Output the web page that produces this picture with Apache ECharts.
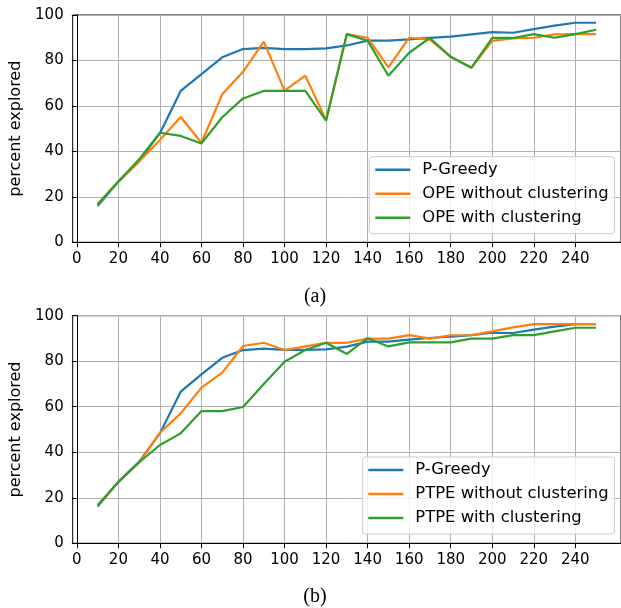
<!DOCTYPE html>
<html><head><meta charset="utf-8">
<script src="https://cdn.jsdelivr.net/npm/echarts@6/dist/echarts.min.js"></script>
<style>html,body{margin:0;padding:0;background:#fff}#c{width:621px;height:608px}</style>
</head><body><div id="c"></div>
<script>
const steps = [10,20,30,40,50,60,70,80,90,100,110,120,130,140,150,160,170,180,190,200,210,220,230,240,250];
const xTicks = [0,20,40,60,80,100,120,140,160,180,200,220,240];
const yTicks = [0,20,40,60,80,100];

const namesA = ['P-Greedy','OPE without clustering','OPE with clustering'];
const namesB = ['P-Greedy','PTPE without clustering','PTPE with clustering'];
const panelLabels = ['(a)','(b)'];
const yLabel = 'percent explored';

const pGreedyA = [16.0,26.7,35.8,48.0,66.6,74.0,81.4,85.0,85.5,85.0,85.0,85.3,86.6,88.7,88.7,89.3,89.9,90.5,91.5,92.5,92.2,93.8,95.3,96.6,96.6];
const opeNoClA = [16.7,26.7,35.5,45.0,55.1,43.8,65.1,75.0,88.3,66.7,73.3,53.8,91.6,90.0,77.0,90.0,89.2,81.6,76.8,88.6,89.7,90.0,91.5,91.6,91.6];
const opeClA   = [16.7,26.7,36.5,48.2,46.8,43.5,55.0,63.3,66.6,66.6,66.6,53.5,91.6,88.7,73.3,83.4,89.9,81.6,76.8,89.9,89.9,91.6,90.0,91.6,93.5];

const pGreedyB  = [16.1,27.0,35.9,48.3,66.6,74.2,81.5,84.9,85.5,85.0,85.0,85.2,86.4,88.6,88.6,89.5,90.2,90.8,91.5,92.5,92.4,93.9,95.2,96.3,96.3];
const ptpeNoClB = [16.5,27.0,35.5,48.6,57.1,68.4,75.0,86.7,88.1,84.9,86.5,88.1,88.1,89.9,89.9,91.5,89.9,91.4,91.4,93.1,94.9,96.3,96.3,96.3,96.3];
const ptpeClB   = [16.7,27.0,35.6,43.2,48.3,58.1,58.1,59.9,70.0,79.8,84.9,88.1,83.2,90.1,86.5,88.3,88.3,88.3,89.9,89.9,91.5,91.5,93.1,94.7,94.7];

const colors = ['#1f77b4','#ff7f0e','#2ca02c'];
const font = 'DejaVu Sans';
const lineIcon = 'path://M0,0 L35,0 L35,2.5 L0,2.5 Z';

function pairs(ys){ return steps.map((x,i)=>[x,ys[i]]); }

const grids = [
  {left:72.7, top:15, width:551, height:227.3, show:true, borderColor:'#000', borderWidth:1},
  {left:72.7, top:315.7, width:551, height:227.6, show:true, borderColor:'#000', borderWidth:1}
];
function xAxis(gi){
  return {type:'value', gridIndex:gi, min:-2, max:262,
    axisLine:{show:true, onZero:false, lineStyle:{color:'#000', width:1}},
    axisTick:{show:true, length:5, inside:false, customValues:xTicks, lineStyle:{color:'#000'}},
    axisLabel:{customValues:xTicks, margin:9, fontFamily:font, fontSize:15, color:'#000'},
    splitLine:{show:true, lineStyle:{color:'#b0b0b0', width:1}}
  };
}
function yAxis(gi){
  return {type:'value', gridIndex:gi, min:0, max:100, interval:20,
    name:yLabel, nameLocation:'middle', nameGap:47,
    nameTextStyle:{fontFamily:font, fontSize:16, color:'#000'},
    axisLine:{show:true, lineStyle:{color:'#000', width:1}},
    axisTick:{show:true, length:5, lineStyle:{color:'#000'}},
    axisLabel:{margin:9, fontFamily:font, fontSize:15, color:'#000'},
    splitLine:{show:true, lineStyle:{color:'#b0b0b0', width:1}}
  };
}
function ser(name, ys, ci, gi){
  return {type:'line', name:name, xAxisIndex:gi, yAxisIndex:gi, data:pairs(ys),
    symbol:'none', lineStyle:{width:2.2, color:colors[ci]}, itemStyle:{color:colors[ci]},
    animation:false};
}
function legend(names, left, top){
  return {data:names.map(n=>({name:n, icon:lineIcon})), orient:'vertical', left:left, top:top,
    itemWidth:35, itemHeight:14, itemGap:8, symbolKeepAspect:true,
    padding:[5,6,8,6],
    backgroundColor:'rgba(255,255,255,0.8)', borderColor:'#cccccc', borderWidth:1, borderRadius:3,
    textStyle:{fontFamily:font, fontSize:16.4, color:'#000', lineHeight:16, padding:[0,0,0,7]}
  };
}
const chart = echarts.init(document.getElementById('c'), null, {renderer:'canvas'});
chart.setOption({
  animation:false,
  backgroundColor:'#fff',
  grid:grids,
  xAxis:[xAxis(0), xAxis(1)],
  yAxis:[yAxis(0), yAxis(1)],
  legend:[legend(namesA, 369.3, 156.7), legend(namesB, 362.3, 457)],
  series:[
    ser(namesA[0], pGreedyA, 0, 0), ser(namesA[1], opeNoClA, 1, 0), ser(namesA[2], opeClA, 2, 0),
    ser(namesB[0], pGreedyB, 0, 1), ser(namesB[1], ptpeNoClB, 1, 1), ser(namesB[2], ptpeClB, 2, 1)
  ],
  graphic:[
    {type:'text', x:315, y:297, style:{text:panelLabels[0], fontFamily:'Liberation Serif', fontSize:20, fill:'#000', align:'center', verticalAlign:'middle'}},
    {type:'text', x:315, y:597, style:{text:panelLabels[1], fontFamily:'Liberation Serif', fontSize:20, fill:'#000', align:'center', verticalAlign:'middle'}}
  ]
});
</script>
</body></html>
